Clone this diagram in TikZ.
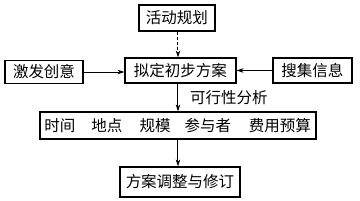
\documentclass[tikz,border=0pt]{standalone}
\usepackage{fontspec}
\setmainfont{Noto Sans CJK SC}
\usetikzlibrary{arrows.meta}
\begin{document}
\begin{tikzpicture}[x=1pt,y=-1pt,
  box/.style={draw,line width=1.2pt,inner sep=0pt,font=\fontsize{15.5}{17}\selectfont},
  conn/.style={line width=1pt,-{Stealth[length=7pt,width=4.5pt]}},
  lbl/.style={inner sep=0pt,font=\fontsize{15.5}{17}\selectfont}]
\useasboundingbox (0,0) rectangle (360,201);
\node[box,minimum width=76pt,minimum height=26pt] (plan) at (177,18) {活动规划};
\node[box,minimum width=111pt,minimum height=25pt] (draft) at (180.5,70.5) {拟定初步方案};
\node[box,minimum width=78pt,minimum height=23pt] (idea) at (44,72) {激发创意};
\node[box,minimum width=79pt,minimum height=25pt] (info) at (312.5,70.5) {搜集信息};
\node[box,minimum width=276pt,minimum height=27pt] (factors) at (178,125.5) {};
\node[lbl] (t1) at (60,125.5) {时间};
\node[lbl] (t2) at (107,125.5) {地点};
\node[lbl] (t3) at (155,125.5) {规模};
\node[lbl] (t4) at (208,125.5) {参与者};
\node[lbl] (t5) at (280,125.5) {费用预算};
\node[box,minimum width=120pt,minimum height=30pt] (revise) at (180,182) {方案调整与修订};
\node[lbl,anchor=west] (feas) at (190,98) {可行性分析};
\draw[conn,densely dashed] (plan.south -| 178,0) -- (draft.north -| 178,0);
\draw[conn] (idea.east) -- (idea.east -| draft.west);
\draw[conn] (info.west) -- (draft.east);
\draw[conn] (draft.south -| 178,0) -- (factors.north -| 178,0);
\draw[conn] (factors.south -| 178,0) -- (revise.north -| 178,0);
\end{tikzpicture}
\end{document}
